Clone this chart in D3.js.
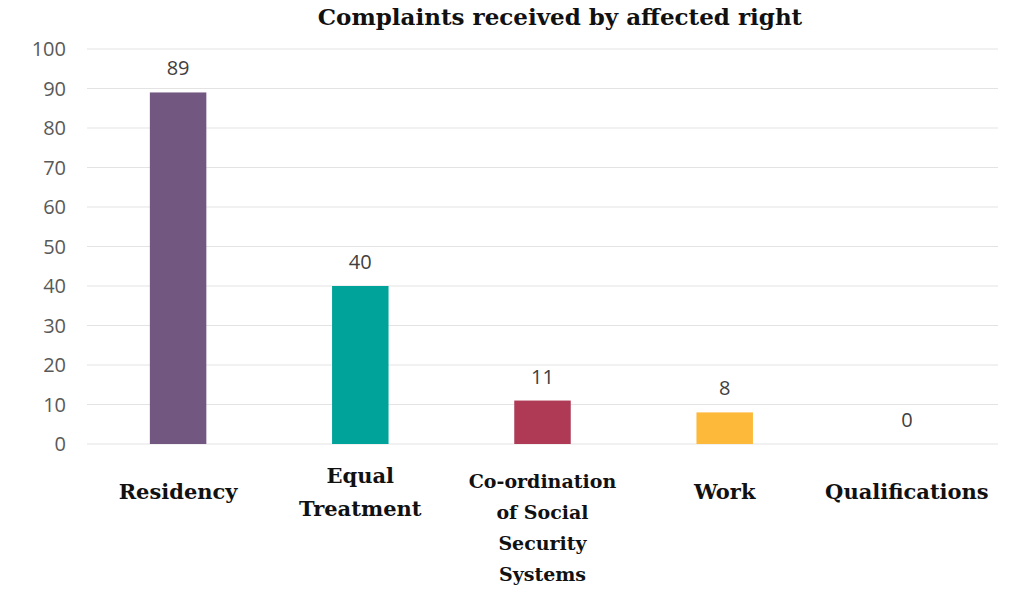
<!DOCTYPE html>
<html>
<head>
<meta charset="utf-8">
<script src="https://cdn.jsdelivr.net/npm/d3@7"></script>
<style>
  body { margin: 0; background: #fff; }
  svg { display: block; }
</style>
</head>
<body>
<svg id="chart" width="1024" height="594"></svg>
<script>
// Chart data
const categories = ["Residency", "Equal Treatment", "Co-ordination of Social Security Systems", "Work", "Qualifications"];
const labelLines = [["Residency"], ["Equal", "Treatment"], ["Co-ordination", "of Social", "Security", "Systems"], ["Work"], ["Qualifications"]];
const values = [89, 40, 11, 8, 0];
const colors = ["#725781", "#00a39a", "#ae3a56", "#fdb93a", "#999999"];
const yTicks = [0, 10, 20, 30, 40, 50, 60, 70, 80, 90, 100];

const svg = d3.select("#chart");
const margin = {left: 87, right: 26, top: 49, bottom: 150};
const W = 1024, H = 594;

let x = d3.scaleBand().domain(categories)
  .range([margin.left, W - margin.right])
  .paddingInner(0.69).paddingOuter(0.345);
let y = d3.scaleLinear().domain([0, 100]).range([H - margin.bottom, margin.top]);

// Grid lines
svg.append("g").selectAll("line")
  .data(yTicks).enter()
  .append("line")
  .attr("x1", margin.left).attr("x2", W - margin.right)
  .attr("y1", d => y(d)).attr("y2", d => y(d))
  .attr("stroke", "#e3e3e3").attr("stroke-width", 1);

// Y axis labels
svg.append("g").selectAll("text")
  .data(yTicks).enter()
  .append("text")
  .attr("x", 66).attr("y", d => y(d))
  .attr("dy", "0.35em")
  .attr("text-anchor", "end")
  .attr("font-family", "Open Sans, sans-serif")
  .attr("font-size", 20)
  .attr("fill", "#595959")
  .text(d => d);

// Bars
svg.append("g").selectAll("rect")
  .data(values).enter()
  .append("rect")
  .attr("x", (d, i) => x(categories[i]))
  .attr("width", x.bandwidth())
  .attr("y", d => y(d))
  .attr("height", d => y(0) - y(d))
  .attr("fill", (d, i) => colors[i]);

// Value labels
svg.append("g").selectAll("text")
  .data(values).enter()
  .append("text")
  .attr("x", (d, i) => x(categories[i]) + x.bandwidth() / 2)
  .attr("y", d => y(d) - 17)
  .attr("text-anchor", "middle")
  .attr("font-family", "Open Sans, sans-serif")
  .attr("font-size", 20)
  .attr("fill", "#404040")
  .text(d => d);

// Category labels
const cat = svg.append("g").selectAll("text")
  .data(labelLines).enter()
  .append("text")
  .attr("x", (d, i) => x(categories[i]) + x.bandwidth() / 2)
  .attr("y", d => d.length == 1 ? 499 : (d.length == 2 ? 483 : 488))
  .attr("text-anchor", "middle")
  .attr("font-family", "DejaVu Serif, serif")
  .attr("font-weight", "bold")
  .attr("font-size", d => d.length > 2 ? 19 : 21)
  .attr("fill", "#111");
cat.each(function(d) {
  const t = d3.select(this);
  const lh = d.length > 2 ? 31 : 33;
  d.forEach((line, k) => {
    t.append("tspan").attr("x", t.attr("x")).attr("dy", k == 0 ? 0 : lh).text(line);
  });
});

// Title
svg.append("text")
  .attr("x", 560).attr("y", 25)
  .attr("text-anchor", "middle")
  .attr("font-family", "DejaVu Serif, serif")
  .attr("font-weight", "bold")
  .attr("font-size", 23)
  .attr("fill", "#111")
  .text("Complaints received by affected right");
</script>
</body>
</html>
